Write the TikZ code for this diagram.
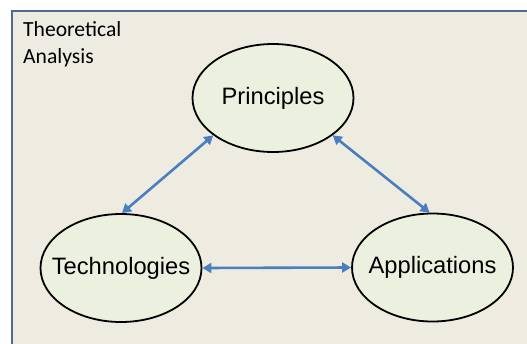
\documentclass[tikz,border=0pt]{standalone}
\usepackage{fontspec}
\setmainfont{Liberation Sans}
\newfontfamily\calfont{Carlito}
\usetikzlibrary{shapes.geometric,arrows.meta}

\definecolor{panelfill}{HTML}{EEEBE1}
\definecolor{panelline}{HTML}{4F6B95}
\definecolor{bubblefill}{HTML}{ECF0DF}
\definecolor{linkblue}{HTML}{4A7EBF}

% the label sits in a zero-width box so the ellipse keeps its fixed size
\newcommand{\bubbletext}[1]{\makebox[0pt]{#1}}

\tikzset{
  bubble/.style={ellipse, draw=black, line width=1.8pt, fill=bubblefill,
    minimum width=161pt, minimum height=108pt, inner sep=0pt,
    font=\fontsize{23.7}{28}\selectfont},
  link/.style={draw=linkblue, line width=2.6pt,
    {Triangle[length=9pt,width=10pt]}-{Triangle[length=9pt,width=10pt]}},
}

\begin{document}
\begin{tikzpicture}[x=1pt,y=-1pt]
  \useasboundingbox (0,0) rectangle (527,343);
  \clip (0,0) rectangle (527,343);

  % panel
  \fill[white] (0,0) rectangle (527,343);
  \draw[panelline, line width=2.6pt, fill=panelfill] (12,11) rectangle (560,370);
  \node[anchor=north west, inner sep=0pt, align=left,
        font=\calfont\fontsize{21.6}{27}\selectfont] (title) at (23,21)
        {Theoretical\\Analysis};

  % concepts
  \node[bubble] (P) at (273,98) {\bubbletext{Principles}};
  \node[bubble] (T) at (121,268) {\bubbletext{Technologies}};
  \node[bubble] (A) at (432.5,267.5) {\bubbletext{Applications}};

  % relations
  \path[link] (P.212) -- (T.89);
  \path[link] (P.328) -- (A.93);
  \path[link] (T.east) -- (A.west);
\end{tikzpicture}
\end{document}
